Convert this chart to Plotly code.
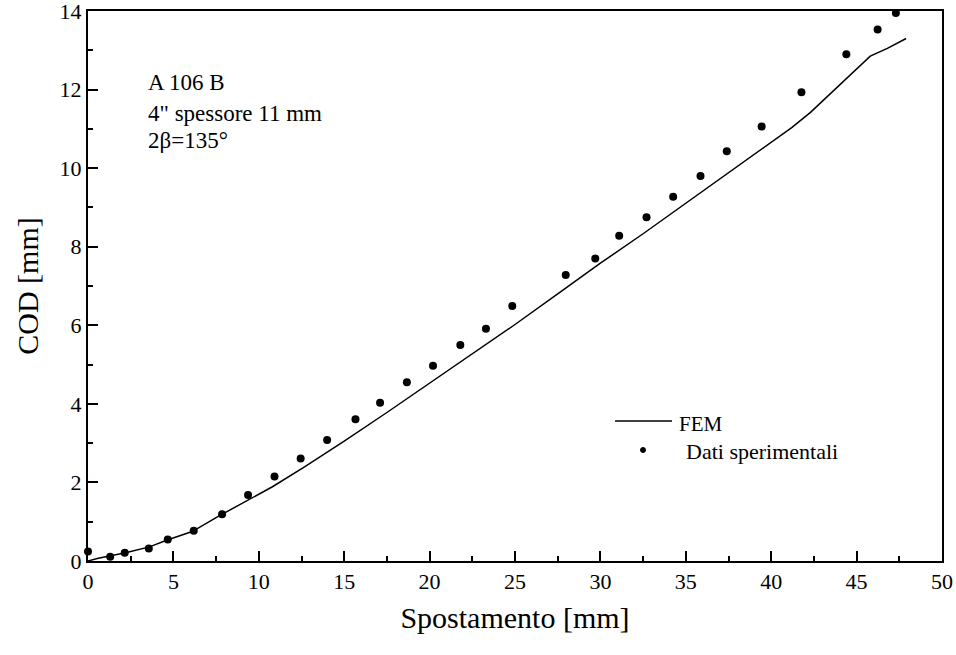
import plotly.graph_objects as go

# FEM simulation curve: displacement [mm] vs crack opening displacement [mm]
fem_x = [0, 0.6, 2.2, 3.6, 4.6, 6.1, 7.6, 9.2, 10.8, 12.7, 15, 17.5, 20, 22.5,
         25, 27.5, 30, 32.5, 35, 37.5, 40, 41.2, 42.3, 44, 45.8, 46.8, 47.9]
fem_y = [0, 0.07, 0.21, 0.36, 0.53, 0.75, 1.13, 1.51, 1.89, 2.4, 3.05, 3.78,
         4.52, 5.27, 6.02, 6.8, 7.58, 8.33, 9.1, 9.88, 10.65, 11.03, 11.42,
         12.12, 12.85, 13.05, 13.3]

# Experimental measurements
exp_x = [0, 1.3, 2.15, 3.56, 4.67, 6.19, 7.85, 9.37, 10.92, 12.45, 14.0, 15.66,
         17.1, 18.67, 20.2, 21.8, 23.3, 24.84, 27.97, 29.7, 31.1, 32.7, 34.26,
         35.86, 37.4, 39.44, 41.77, 44.4, 46.23, 47.3]
exp_y = [0.24, 0.11, 0.21, 0.32, 0.55, 0.77, 1.19, 1.68, 2.15, 2.61, 3.08, 3.61,
         4.03, 4.55, 4.97, 5.50, 5.91, 6.49, 7.28, 7.70, 8.28, 8.75, 9.27, 9.80,
         10.43, 11.06, 11.93, 12.90, 13.53, 13.95]

x_ticks = [0, 5, 10, 15, 20, 25, 30, 35, 40, 45, 50]
y_ticks = [0, 2, 4, 6, 8, 10, 12, 14]

info_lines = ["A 106 B", "4\" spessore 11 mm", "2β=135°"]
legend_labels = ["FEM", "Dati sperimentali"]

FONT = "Liberation Serif"
W, H = 956, 655
ML, MR, MT, MB = 88, 14, 11, 94
PW, PH = W - ML - MR, H - MT - MB


def px(xp):
    return (xp - ML) / PW


def py(yp):
    return (H - MB - yp) / PH


fig = go.Figure()
fig.add_trace(go.Scatter(x=fem_x, y=fem_y, mode="lines", name=legend_labels[0],
                         line=dict(color="black", width=1.5), showlegend=False))
fig.add_trace(go.Scatter(x=exp_x, y=exp_y, mode="markers", name=legend_labels[1],
                         marker=dict(color="black", size=8, symbol="circle"),
                         cliponaxis=False, showlegend=False))

axis_common = dict(
    showline=True, linecolor="black", linewidth=2, mirror=True,
    ticks="inside", ticklen=10, tickwidth=2, tickcolor="black",
    showgrid=False, zeroline=False, automargin=False,
    ticklabeloverflow="allow",
    tickfont=dict(family=FONT, size=22, color="black"),
)

fig.update_xaxes(range=[0, 50], tickvals=x_ticks,
                 ticktext=[str(v) for v in x_ticks],
                 minor=dict(ticks="inside", ticklen=5, tickwidth=2,
                            tickcolor="black", dtick=2.5, tick0=0),
                 title=dict(text="Spostamento [mm]",
                            font=dict(family=FONT, size=30, color="black"),
                            standoff=14),
                 **axis_common)
fig.update_yaxes(range=[0, 14], tickvals=y_ticks,
                 ticktext=[str(v) for v in y_ticks],
                 minor=dict(ticks="inside", ticklen=5, tickwidth=2,
                            tickcolor="black", dtick=1, tick0=0),
                 title=dict(text="COD [mm]",
                            font=dict(family=FONT, size=30, color="black"),
                            standoff=12),
                 **axis_common)

annotations = []
for txt, yc in zip(info_lines, [82, 114, 141]):
    annotations.append(dict(xref="paper", yref="paper", x=px(146), y=py(yc),
                            xanchor="left", yanchor="middle", text=txt,
                            showarrow=False,
                            font=dict(family=FONT, size=23, color="black")))

# Legend block
annotations.append(dict(xref="paper", yref="paper", x=px(677), y=py(424),
                        xanchor="left", yanchor="middle", text=legend_labels[0],
                        showarrow=False,
                        font=dict(family=FONT, size=21, color="black")))
annotations.append(dict(xref="paper", yref="paper", x=px(684), y=py(452),
                        xanchor="left", yanchor="middle", text=legend_labels[1],
                        showarrow=False,
                        font=dict(family=FONT, size=22, color="black")))

shapes = [
    dict(type="line", xref="paper", yref="paper", x0=px(615), x1=px(672),
         y0=py(421), y1=py(421), line=dict(color="black", width=1.5)),
    dict(type="circle", xref="paper", yref="paper", x0=px(640.5), x1=px(645.5),
         y0=py(447.5), y1=py(452.5), fillcolor="black",
         line=dict(color="black", width=1)),
]

fig.update_layout(
    width=W, height=H,
    margin=dict(l=ML, r=MR, t=MT, b=MB, pad=0, autoexpand=False),
    paper_bgcolor="white", plot_bgcolor="white",
    annotations=annotations, shapes=shapes,
    showlegend=False,
)

fig.write_html("out.html")
